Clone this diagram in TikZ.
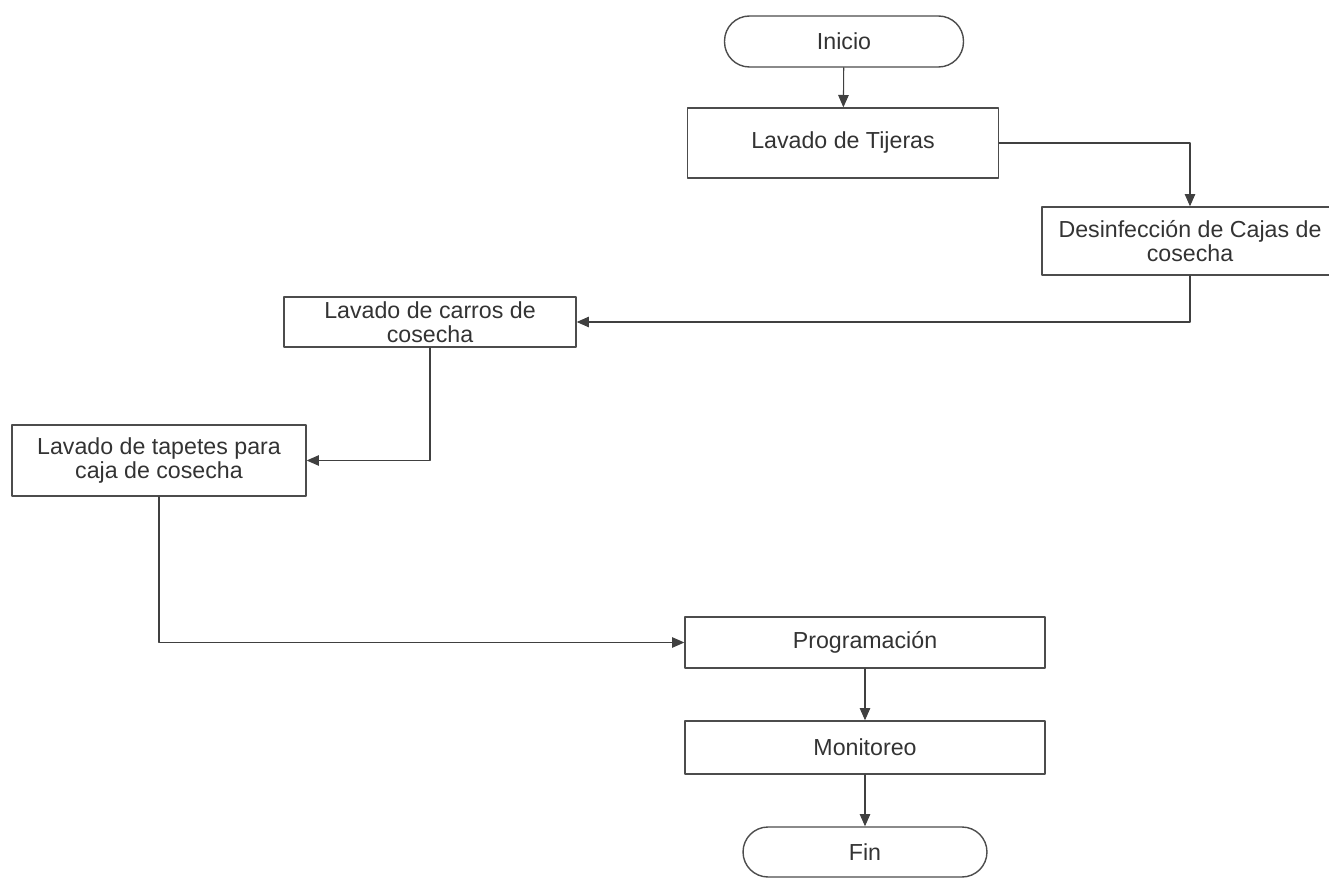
\documentclass[tikz,border=0pt]{standalone}
\usepackage{fontspec}
\setmainfont{Liberation Sans}
\usetikzlibrary{arrows.meta}

\begin{document}
\begin{tikzpicture}[x=0.02cm, y=-0.02cm, line cap=round, line join=round, >={Triangle[width=6pt,length=7pt]},
  font=\fontsize{13.2}{13.8}\selectfont,
  proc/.style={draw=black!70, line width=0.8pt, text=black!80, align=center, inner sep=0pt},
  term/.style={proc, rounded corners=0.5cm},
  flow/.style={->, draw=black!75, line width=0.6pt}]

  % ===== Canvas =====
  \useasboundingbox (0,0) rectangle (1329,878);

  % ===== Steps =====
  \node[term, minimum width=4.78cm, minimum height=1.02cm] (inicio) at (844,41.5) {Inicio};
  \node[proc, minimum width=6.22cm, minimum height=1.40cm] (tijeras) at (843,143) {Lavado de Tijeras};
  \node[proc, minimum width=5.92cm, minimum height=1.36cm] (cajas) at (1190,241) {Desinfección de Cajas de\\cosecha};
  \node[proc, minimum width=5.84cm, minimum height=1.00cm] (carros) at (430,322) {Lavado de carros de\\cosecha};
  \node[proc, minimum width=5.88cm, minimum height=1.42cm] (tapetes) at (159,460.5) {Lavado de tapetes para\\caja de cosecha};
  \node[proc, minimum width=7.20cm, minimum height=1.02cm] (prog) at (865,642.5) {Programación};
  \node[proc, minimum width=7.20cm, minimum height=1.06cm] (monit) at (865,747.5) {Monitoreo};
  \node[term, minimum width=4.88cm, minimum height=1.00cm] (fin) at (865,852) {Fin};

  % ===== Connectors =====
  \draw[flow] (inicio) -- (tijeras);
  \draw[flow] (tijeras.east) -| (cajas.north);
  \draw[flow] (cajas.south) |- (carros.east);
  \draw[flow] (carros.south) |- (tapetes.east);
  \draw[flow] (tapetes.south) |- (prog.west);
  \draw[flow] (prog) -- (monit);
  \draw[flow] (monit) -- (fin);

\end{tikzpicture}
\end{document}
